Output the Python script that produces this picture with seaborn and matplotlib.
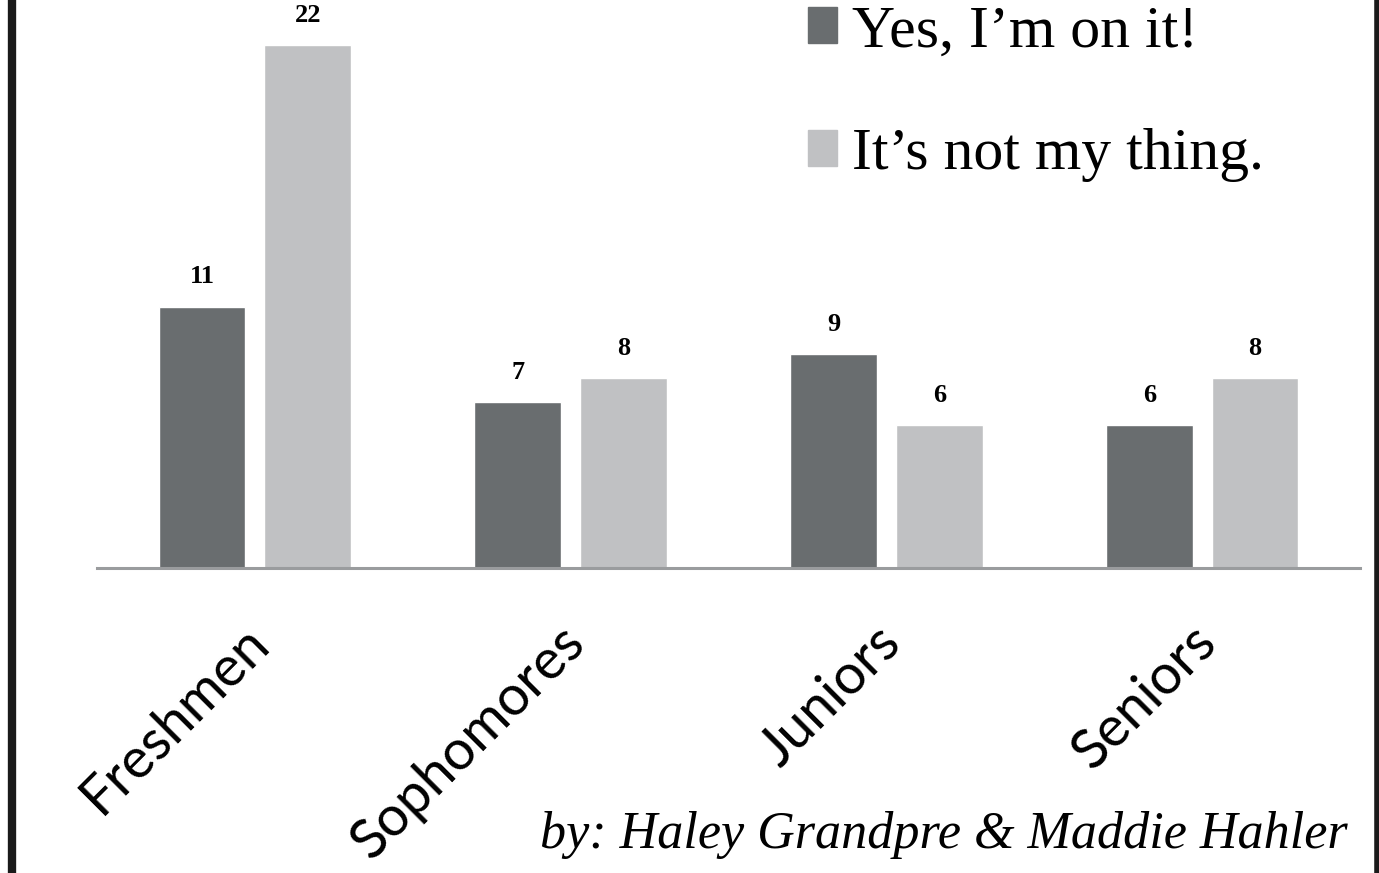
import matplotlib
matplotlib.use('Agg')
import matplotlib.pyplot as plt
import matplotlib.transforms as mtrans
from matplotlib.lines import Line2D
import seaborn as sns
import pandas as pd

# ==== DATA ====
CLASSES = ['Freshmen', 'Sophomores', 'Juniors', 'Seniors']
YES_VALUES = [11, 7, 9, 6]
NO_VALUES = [22, 8, 6, 8]
SERIES = ['Yes, I\u2019m on it!', 'It\u2019s not my thing.']
COLORS = ['#696d6f', '#c0c1c3']
CREDIT = 'by: Haley Grandpre & Maddie Hahler'

df = pd.DataFrame({
    'cls': CLASSES * 2,
    'answer': [SERIES[0]] * len(CLASSES) + [SERIES[1]] * len(CLASSES),
    'count': YES_VALUES + NO_VALUES,
})

sns.set_theme(style='white')
plt.rcParams['font.family'] = ['Liberation Serif', 'DejaVu Serif']
plt.rcParams['text.color'] = 'black'

W, H = 1379, 873
fig = plt.figure(figsize=(W / 100, H / 100), dpi=100)
ax = fig.add_axes([97 / W, (H - 568) / H, (1360 - 97) / W, 568 / H])

sns.barplot(data=df, x='cls', y='count', hue='answer', palette=COLORS,
            width=0.67, gap=0.18, ax=ax, legend=False, saturation=1)

ax.set_xlim(-0.5, 3.5)
ax.set_ylim(0, 22 * 568 / 523)

for cont in ax.containers:
    ax.bar_label(cont, padding=13, fontsize=19, fontweight='bold',
                 color='black', family=['Liberation Serif'])

# axes cosmetics
for side in ['top', 'left', 'right']:
    ax.spines[side].set_visible(False)
ax.spines['bottom'].set_color('#9a9c9e')
ax.spines['bottom'].set_linewidth(2.2)
ax.set_yticks([])
ax.set_xlabel('')
ax.set_ylabel('')
ax.tick_params(axis='x', length=0, pad=48)
offset = mtrans.ScaledTranslation(6 / 100, 0, fig.dpi_scale_trans)
for lbl in ax.get_xticklabels():
    lbl.set_rotation(45)
    lbl.set_ha('right')
    lbl.set_va('center')
    lbl.set_rotation_mode('anchor')
    lbl.set_fontsize(40)
    lbl.set_family(['Lato', 'DejaVu Sans'])
    lbl.set_color('black')
    lbl.set_transform(lbl.get_transform() + offset)

# legend
handles = [plt.Rectangle((0, 0), 1, 1, color=c) for c in COLORS]
leg = ax.legend(handles, SERIES, loc='upper left', bbox_to_anchor=(0.52, 1.085),
                frameon=False, fontsize=43, handlelength=0.5, handleheight=0.55,
                handletextpad=0.25, labelspacing=1.15)
for t in leg.get_texts():
    t.set_color('black')

# credit line
fig.text(540 / W, 1 - 835 / H, CREDIT, fontsize=37.5, style='italic',
         color='black', va='center', ha='left', family=['Liberation Serif'])

# black side borders
fig.add_artist(Line2D([12 / W, 12 / W], [0, 1], color='#1a1a1a', lw=6,
                      transform=fig.transFigure))
fig.add_artist(Line2D([1376.5 / W, 1376.5 / W], [0, 1], color='#1a1a1a', lw=4,
                      transform=fig.transFigure))

fig.savefig('out.png', dpi=100, facecolor='white')
